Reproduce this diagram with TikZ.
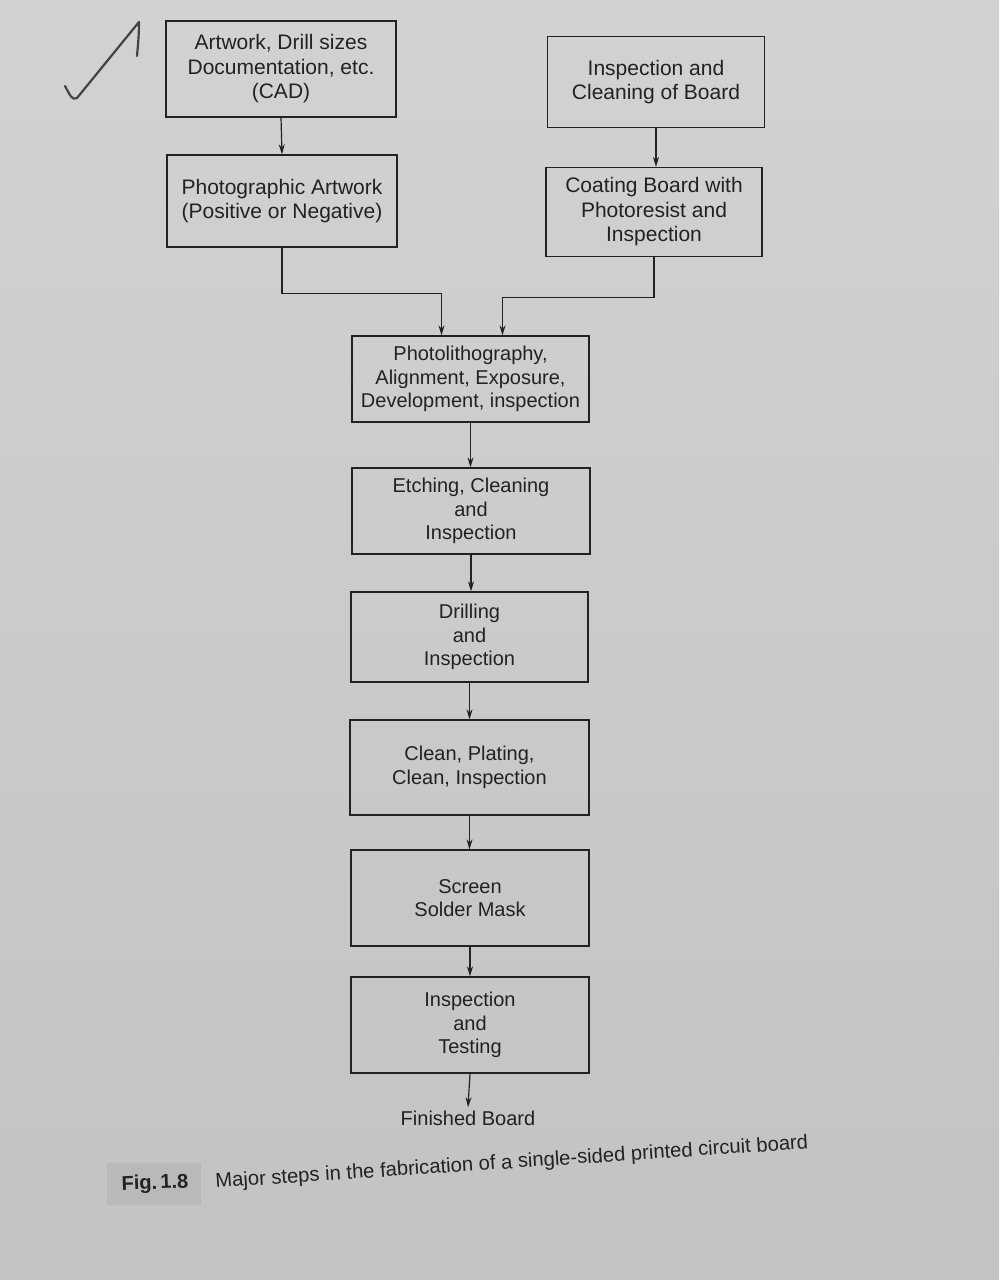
\documentclass[tikz,border=0pt]{standalone}
\usepackage{fontspec}
\setmainfont{Liberation Sans}
\usetikzlibrary{arrows.meta,calc}
\definecolor{paper}{HTML}{CDCDCB}
\definecolor{ink}{HTML}{222222}
\definecolor{figtag}{HTML}{B9B9B7}
\tikzset{
  stepbox/.style={draw=ink, line width=1.3pt, fill=none, align=center,
    text=ink, inner sep=4pt, font=\fontsize{20}{23.5}\selectfont},
  topbox/.style={stepbox, font=\fontsize{21}{24.5}\selectfont},
  flow/.style={draw=ink, line width=1.2pt, -{Stealth[length=10pt,width=6pt]}},
  plain/.style={text=ink, font=\fontsize{20}{23.5}\selectfont}
}
\begin{document}
\begin{tikzpicture}[x=1pt,y=-1pt]
  % page background
  \useasboundingbox (0,0) rectangle (999,1280);
  \shade[top color=paper!90!white, bottom color=paper!95!black] (0,0) rectangle (999,1280);

  % hand-drawn tick
  \draw[ink!85, line width=2.2pt, line cap=round, line join=round]
    (65,86) .. controls (70,95) and (72,101) .. (77,98)
    -- (139,22) .. controls (139,35) and (138,45) .. (137,56);

  % left column
  \node[topbox, minimum width=230pt, minimum height=96pt] (cad) at (281,69)
    {Artwork, Drill sizes\\Documentation, etc.\\(CAD)};
  \node[topbox, minimum width=230pt, minimum height=92pt] (photo) at (282,201)
    {Photographic Artwork\\(Positive or Negative)};

  % right column
  \node[topbox, minimum width=217pt, minimum height=91pt] (clean) at (656,82)
    {Inspection and\\Cleaning of Board};
  \node[topbox, minimum width=216pt, minimum height=89pt] (coat) at (654,212)
    {Coating Board with\\Photoresist and\\Inspection};

  % main column
  \node[stepbox, minimum width=237pt, minimum height=86pt] (litho) at (470.5,379)
    {Photolithography,\\Alignment, Exposure,\\Development, inspection};
  \node[stepbox, minimum width=238pt, minimum height=86pt] (etch) at (471,511)
    {Etching, Cleaning\\and\\Inspection};
  \node[stepbox, minimum width=237pt, minimum height=90pt] (drill) at (469.5,637)
    {Drilling\\and\\Inspection};
  \node[stepbox, minimum width=239pt, minimum height=95pt] (plate) at (469.5,767.5)
    {Clean, Plating,\\Clean, Inspection};
  \node[stepbox, minimum width=238pt, minimum height=96pt] (mask) at (470,898)
    {Screen\\Solder Mask};
  \node[stepbox, minimum width=238pt, minimum height=96pt] (test) at (470,1025)
    {Inspection\\and\\Testing};
  \node[plain] (done) at (468,1118) {Finished Board};

  % connectors
  \draw[flow] (cad.south) -- (photo.north);
  \draw[flow] (clean.south) -- (clean.south |- coat.north);
  \draw[flow] (photo.south) -- ++(0,46) -| ($(litho.north)+(-29,0)$);
  \draw[flow] (coat.south) -- ++(0,40) -| ($(litho.north)+(32,0)$);
  \draw[flow] (litho.south) -- (litho.south |- etch.north);
  \draw[flow] (etch.south) -- (etch.south |- drill.north);
  \draw[flow] (drill.south) -- (drill.south |- plate.north);
  \draw[flow] (plate.south) -- (plate.south |- mask.north);
  \draw[flow] (mask.south) -- (mask.south |- test.north);
  \draw[flow] (test.south) -- (done.north);

  % caption
  \fill[figtag] (107,1163) rectangle (201,1205);
  \node[text=ink, font=\fontsize{20}{23}\selectfont\bfseries, rotate=2] (tag) at (155,1184) {Fig.\,1.8};
  \node[text=ink, font=\fontsize{20.2}{23}\selectfont, rotate=3.8, anchor=west] (cap) at (212,1183)
    {Major steps in the fabrication of a single-sided printed circuit board};
\end{tikzpicture}
\end{document}
